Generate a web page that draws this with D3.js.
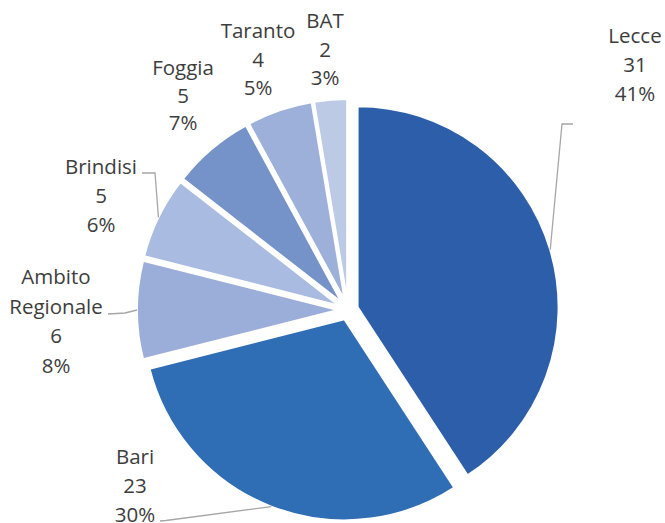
<!DOCTYPE html>
<meta charset="utf-8">
<head>
    <script src="https://d3js.org/d3.v7.min.js"></script>
    <style>
        body { margin: 0; background: #fff; }
        .lbl { font-family: "Open Sans", sans-serif; font-size: 20.5px; fill: #3d3d3d; }
        .leader { fill: none; stroke: #a6a6a6; stroke-width: 1.3; }
    </style>
</head>
<body>
<svg width="665" height="523"></svg>
<script>

// data
var categories = ["Lecce", "Bari", "Ambito Regionale", "Brindisi", "Foggia", "Taranto", "BAT"];
var values = [31, 23, 6, 5, 5, 4, 2];
var percents = ["41%", "30%", "8%", "6%", "7%", "5%", "3%"];
var colors = ["#2d5ea9", "#2f6db5", "#9aaed9", "#a9bbe0", "#7592c9", "#9cb0da", "#bccae6"];

// label layout (text centre x, first baseline y, line height), and leader elbows
var labelPos = [
    {x: 635, y: 43, lh: 29},
    {x: 135, y: 464, lh: 29},
    {x: 56, y: 284, lh: 29.5},
    {x: 101, y: 174, lh: 29},
    {x: 183, y: 75, lh: 27.5},
    {x: 258, y: 38, lh: 28.5},
    {x: 325, y: 28, lh: 28.5}
];
var leaders = {
    0: [[573, 124], [562, 124]],
    1: [[160, 521], [166, 520.5]],
    2: [[108, 314], [125, 313]],
    3: [[142, 173], [155, 173]]
};

var svg = d3.select("svg"),
    cx = 348, cy = 310,
    radius = 201,
    explode = 10;

var pie = d3.pie().sort(null).value(function(d) { return d; });
var arc = d3.arc().innerRadius(0).outerRadius(radius);
var arcs = pie(values);

function offset(d) {
    var a = (d.startAngle + d.endAngle) / 2;
    return [explode * Math.sin(a), -explode * Math.cos(a)];
}

var g = svg.append("g").attr("transform", "translate(" + cx + "," + cy + ")");

g.selectAll("path.slice")
    .data(arcs)
    .enter().append("path")
    .attr("class", "slice")
    .attr("d", arc)
    .attr("transform", function(d) { var o = offset(d); return "translate(" + o[0] + "," + o[1] + ")"; })
    .attr("fill", function(d, i) { return colors[i]; })
    .attr("stroke", "#fff")
    .attr("stroke-width", 2);

// leader lines to the outer midpoint of each slice
arcs.forEach(function(d, i) {
    if (!leaders[i]) return;
    var a = (d.startAngle + d.endAngle) / 2,
        o = offset(d),
        end = [cx + o[0] + radius * Math.sin(a), cy + o[1] - radius * Math.cos(a)];
    var pts = leaders[i].concat([end]);
    svg.append("path")
        .attr("class", "leader")
        .attr("d", d3.line()(pts));
});

// labels
categories.forEach(function(c, i) {
    var p = labelPos[i];
    var lines = c === "Ambito Regionale" ? ["Ambito", "Regionale"] : [c];
    lines = lines.concat([String(values[i]), percents[i]]);
    var t = svg.append("text")
        .attr("class", "lbl")
        .attr("text-anchor", "middle");
    lines.forEach(function(s, k) {
        t.append("tspan")
            .attr("x", p.x)
            .attr("y", p.y + k * p.lh)
            .text(s);
    });
});

</script>
</body>
